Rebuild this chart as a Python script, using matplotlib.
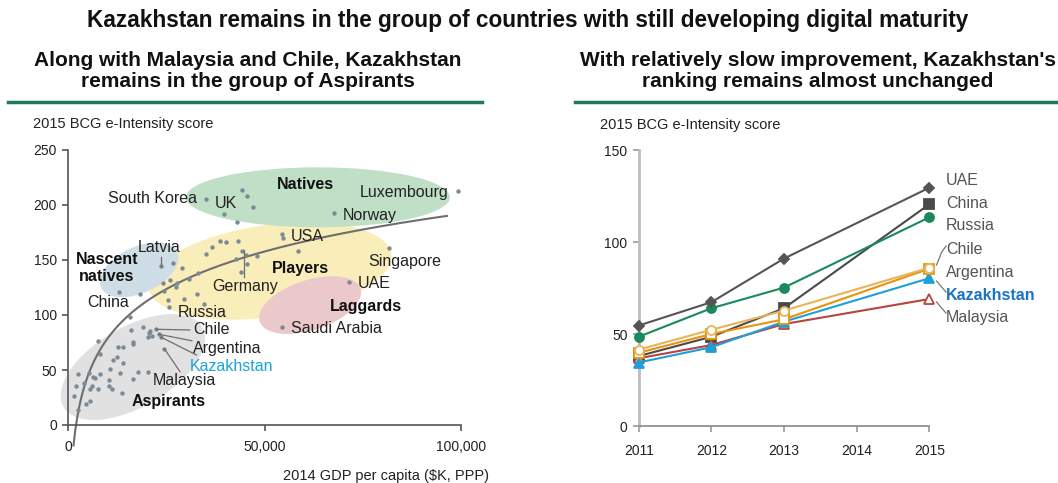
import matplotlib
matplotlib.use("Agg")
import matplotlib.pyplot as plt
import numpy as np
from matplotlib.patches import Ellipse
from matplotlib.transforms import ScaledTranslation

plt.rcParams['font.family'] = ['Liberation Sans', 'DejaVu Sans']

# ---- scatter: GDP per capita (k$) vs e-Intensity score ----
gdp = [35.0, 44.4, 45.5, 47.0, 39.6, 43.0, 67.7, 99.2,
       54.4, 54.8, 58.5, 81.8, 71.6, 54.5,
       36.7, 38.8, 40.2, 43.3, 35.0, 44.4, 45.3, 48.0, 45.5, 44.0, 42.7,
       29.1, 26.8, 23.7, 24.3, 26.0, 27.7, 27.5, 24.4, 30.9, 33.2,
       13.0, 18.3, 25.5, 29.5, 32.7, 34.6, 25.8,
       15.8, 19.2, 20.9, 22.4, 20.6, 20.3, 21.5, 23.1, 23.6, 16.1, 16.5, 16.5, 24.5,
       7.6, 8.1, 12.8, 13.9, 11.5, 12.5, 14.1, 10.7, 13.2, 17.7, 20.4, 16.5,
       10.5, 10.4, 11.1, 13.7, 8.1, 6.4, 6.9, 5.4, 2.6, 2.0, 1.4, 4.1, 6.1,
       5.6, 7.7, 5.6, 4.6, 2.5]
score = [205.5, 214, 208, 198.5, 191.5, 184.5, 192.5, 212.5,
         174, 170, 158.5, 161, 129.7, 88.8,
         161.5, 167.5, 166.5, 167.5, 155, 158, 154.5, 154, 146.5, 139.5, 151,
         142.5, 147.5, 144.5, 129.5, 132, 129, 125.5, 122, 132.5, 138,
         121, 119, 114, 114.5, 119, 110, 107.5,
         98.5, 89.5, 85.7, 87, 83.5, 80.3, 81.2, 82.5, 80, 86.4, 75.2, 73.5, 69.4,
         76.6, 65, 71.2, 70.6, 59, 61.5, 56, 50.6, 47, 48.5, 48.5, 41.8,
         41, 35.5, 32.4, 29.4, 46.4, 44, 43, 47, 46.4, 35.5, 26.4, 37.9, 35.5,
         32.4, 32.4, 22, 19, 13.6]

# log trend: score = a + b * ln(gdp)
trend_a, trend_b = -375.7, 49.3

# ---- e-Intensity score over time ----
years = [2011, 2012, 2013, 2015]
uae = [54.6, 67.3, 91.0, 129.5]
china = [38.0, 48.5, 64.0, 120.5]
russia = [48.5, 64.0, 75.2, 113.4]
chile = [41.5, 52.3, 62.7, 86.0]
argentina = [39.8, 50.0, 58.0, 85.5]
kazakhstan = [34.5, 42.8, 56.7, 80.3]
malaysia = [36.8, 44.0, 55.4, 69.0]

fig = plt.figure(figsize=(10.58, 4.83), dpi=100)
W, H = 1058, 483


def px_axes(x0, y0, x1, y1):
    # pixel box (top-left origin) -> figure axes
    return fig.add_axes([x0 / W, 1 - y1 / H, (x1 - x0) / W, (y1 - y0) / H])


# titles and green rules
fig.text(528 / W, 1 - 21 / H, "Kazakhstan remains in the group of countries with still developing digital maturity",
         ha='center', va='center', fontsize=16.3, fontweight='bold', color='#111111')
fig.text(248 / W, 1 - 71 / H, "Along with Malaysia and Chile, Kazakhstan\nremains in the group of Aspirants",
         ha='center', va='center', fontsize=15, fontweight='bold', color='#111111', linespacing=1.17)
fig.text(818 / W, 1 - 71 / H, "With relatively slow improvement, Kazakhstan's\nranking remains almost unchanged",
         ha='center', va='center', fontsize=15, fontweight='bold', color='#111111', linespacing=1.17)
fig.add_artist(plt.Line2D([8 / W, 482 / W], [1 - 102 / H] * 2, color='#1e7a55', lw=2.5))
fig.add_artist(plt.Line2D([575 / W, 1058 / W], [1 - 102 / H] * 2, color='#1e7a55', lw=2.5))

# ================= left: scatter =================
ax = px_axes(68, 150, 461, 425)
ax.set_xlim(0, 100)
ax.set_ylim(0, 250)


def blob(x, y, w, h, angle, color):
    tr = fig.dpi_scale_trans + ScaledTranslation(x, y, ax.transData)
    ax.add_patch(Ellipse((0, 0), w / 100, h / 100, angle=angle, transform=tr,
                         fc=color, ec='none', zorder=0, clip_on=False))


blob(51.4, 140, 245, 92, 8, '#f9edba')    # Players
blob(63.6, 207, 264, 60, 0, '#bfdfc7')    # Natives
blob(18.1, 141, 84, 46, 25, '#cfdde6')    # Nascent natives
blob(61.6, 109, 106, 50, 18, '#ebc8ca')   # Laggards
blob(16.5, 52.7, 160, 80, 30, '#e1e1e1')  # Aspirants

xt = np.linspace(1.4, 96.4, 200)
ax.plot(xt, trend_a + trend_b * np.log(xt * 1000), color='#6e6e6e', lw=1.5, zorder=2, clip_on=False)
ax.scatter(gdp, score, s=10, color='#7b8a94', zorder=3, linewidths=0)

for s in ['top', 'right']:
    ax.spines[s].set_visible(False)
for s in ['left', 'bottom']:
    ax.spines[s].set_color('#555555')
    ax.spines[s].set_linewidth(1.2)
ax.set_yticks(range(0, 251, 50))
ax.set_xticks([0, 50, 100])
ax.set_xticklabels(['0', '50,000', '100,000'])
ax.tick_params(colors='#555555', labelcolor='#222222', labelsize=10, length=4, width=1.2, pad=4)
ax.tick_params(axis='x', pad=7)

ax.text(-8.9, 273.6, "2015 BCG e-Intensity score", fontsize=10.5, color='#222222', va='center', ha='left', clip_on=False)
ax.text(107, -46, "2014 GDP per capita ($K, PPP)", fontsize=10.5, color='#222222', va='center', ha='right', clip_on=False)

labels = [
    ("South Korea", 32.8, 205.5, 'right', 'normal', '#222222'),
    ("UK", 37.4, 201, 'left', 'normal', '#222222'),
    ("Natives", 60.3, 219, 'center', 'bold', '#111111'),
    ("Luxembourg", 74.3, 211, 'left', 'normal', '#222222'),
    ("Norway", 70.0, 190, 'left', 'normal', '#222222'),
    ("USA", 56.7, 171.8, 'left', 'normal', '#222222'),
    ("Latvia", 17.8, 161.8, 'left', 'normal', '#222222'),
    ("Nascent\nnatives", 9.9, 142.7, 'center', 'bold', '#111111'),
    ("Players", 51.9, 142.7, 'left', 'bold', '#111111'),
    ("Singapore", 76.3, 149, 'left', 'normal', '#222222'),
    ("UAE", 73.8, 129, 'left', 'normal', '#222222'),
    ("Germany", 36.6, 125.5, 'left', 'normal', '#222222'),
    ("China", 4.8, 111, 'left', 'normal', '#222222'),
    ("Laggards", 66.7, 107.3, 'left', 'bold', '#111111'),
    ("Russia", 28.0, 102.7, 'left', 'normal', '#222222'),
    ("Saudi Arabia", 56.7, 87.3, 'left', 'normal', '#222222'),
    ("Chile", 31.8, 86.4, 'left', 'normal', '#222222'),
    ("Argentina", 31.8, 69.1, 'left', 'normal', '#222222'),
    ("Kazakhstan", 31.0, 53.6, 'left', 'normal', '#1ea2da'),
    ("Malaysia", 21.6, 40, 'left', 'normal', '#222222'),
    ("Aspirants", 16.3, 21, 'left', 'bold', '#111111'),
]
for txt, x, y, ha, fw, c in labels:
    ax.text(x, y, txt, ha=ha, va='center', fontsize=11.5, fontweight=fw, color=c,
            zorder=5, linespacing=1.2, clip_on=False)

leaders = [((23.7, 153), (23.7, 144.5)),
           ((44.9, 159), (44.9, 134.8)),
           ((22.4, 87), (31.0, 86.4)),
           ((23.1, 82.5), (31.5, 76.6)),
           ((23.6, 80), (32.7, 63.6)),
           ((24.5, 69.4), (28.5, 48.5))]
for (x0, y0), (x1, y1) in leaders:
    ax.plot([x0, x1], [y0, y1], color='#6e6e6e', lw=0.9, zorder=4)

# ================= right: lines =================
bx = px_axes(638.7, 150, 929.3, 426)
bx.set_xlim(2011, 2015)
bx.set_ylim(0, 150)

series = [
    (china, '#4a4a4a', 's', '#4a4a4a'),
    (malaysia, '#b5453d', '^', 'white'),
    (kazakhstan, '#1e9fd9', '^', '#1e9fd9'),
    (argentina, '#e8930a', 's', 'white'),
    (chile, '#e6b45a', 'o', 'white'),
    (russia, '#1b8a5a', 'o', '#1b8a5a'),
    (uae, '#555555', 'D', '#555555'),
]
for vals, c, m, fc in series:
    bx.plot(years, vals, color=c, lw=1.5, marker=m, markersize=6.5 if m != 'D' else 5.5,
            markerfacecolor=fc, markeredgecolor=c, markeredgewidth=1.3, clip_on=False, zorder=3)

for s in ['top', 'right']:
    bx.spines[s].set_visible(False)
bx.spines['left'].set_color('#bdbdbd')
bx.spines['left'].set_linewidth(2)
bx.spines['bottom'].set_color('#888888')
bx.spines['bottom'].set_linewidth(1.2)
bx.set_yticks([0, 50, 100, 150])
bx.set_xticks([2011, 2012, 2013, 2014, 2015])
bx.tick_params(colors='#999999', labelcolor='#222222', labelsize=10, length=4, width=1.2, pad=4)
bx.tick_params(axis='x', pad=9)
bx.text(2010.47, 163.5, "2015 BCG e-Intensity score", fontsize=10.5, color='#222222', va='center', ha='left', clip_on=False)

right_labels = [("UAE", 133.2), ("China", 120.7), ("Russia", 108.7), ("Chile", 95.7),
                ("Argentina", 83.2), ("Kazakhstan", 70.7), ("Malaysia", 58.7)]
for txt, y in right_labels:
    kz = txt == "Kazakhstan"
    bx.text(2015.23, y, txt, ha='left', va='center', fontsize=11.5,
            fontweight='bold' if kz else 'normal', color='#1a74c4' if kz else '#555555', clip_on=False)

brackets = [[(2015.23, 97.8), (2015.17, 94.5), (2015.10, 87.5)],
            [(2015.10, 78.8), (2015.17, 75.5), (2015.23, 72.8)],
            [(2015.10, 67.4), (2015.17, 64.1), (2015.23, 61.4)]]
for pts in brackets:
    xs, ys = zip(*pts)
    bx.plot(xs, ys, color='#777777', lw=0.9, clip_on=False)

fig.savefig("out.png", dpi=100)
